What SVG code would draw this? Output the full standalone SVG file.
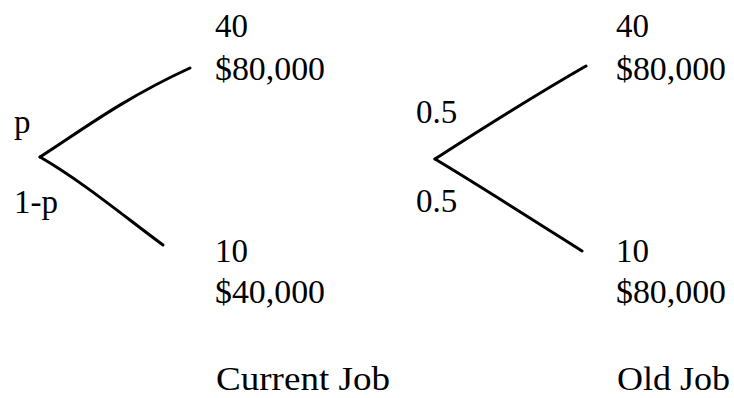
<svg xmlns="http://www.w3.org/2000/svg" width="734" height="398" viewBox="0 0 734 398">
<style>
text{font-family:"Liberation Serif","Times New Roman",serif;font-size:33px;fill:#000}
.br{fill:none;stroke:#000;stroke-width:3;stroke-linecap:round}
</style>
<rect width="734" height="398" fill="#fff"/>
<g id="connectors">
<path class="br" d="M40,157 C75,135 120,100 190,68"/>
<path class="br" d="M40,157 C80,180 120,213 163,245"/>
<path class="br" d="M435,159 C480,130 530,98 586,66"/>
<path class="br" d="M435,159 C480,186 530,218 582,251"/>
</g>
<g id="current-job">
<text x="14" y="133">p</text>
<text x="14" y="213">1-p</text>
<text x="215" y="37">40</text>
<text x="215" y="80" textLength="110" lengthAdjust="spacingAndGlyphs">$80,000</text>
<text x="215" y="262">10</text>
<text x="215" y="303" textLength="110" lengthAdjust="spacingAndGlyphs">$40,000</text>
<text x="216" y="390" textLength="174" lengthAdjust="spacingAndGlyphs">Current Job</text>
</g>
<g id="old-job">
<text x="416" y="123">0.5</text>
<text x="416" y="212">0.5</text>
<text x="616" y="37">40</text>
<text x="616" y="80" textLength="110" lengthAdjust="spacingAndGlyphs">$80,000</text>
<text x="616" y="262">10</text>
<text x="616" y="303" textLength="110" lengthAdjust="spacingAndGlyphs">$80,000</text>
<text x="617" y="390" textLength="113" lengthAdjust="spacingAndGlyphs">Old Job</text>
</g>
</svg>
